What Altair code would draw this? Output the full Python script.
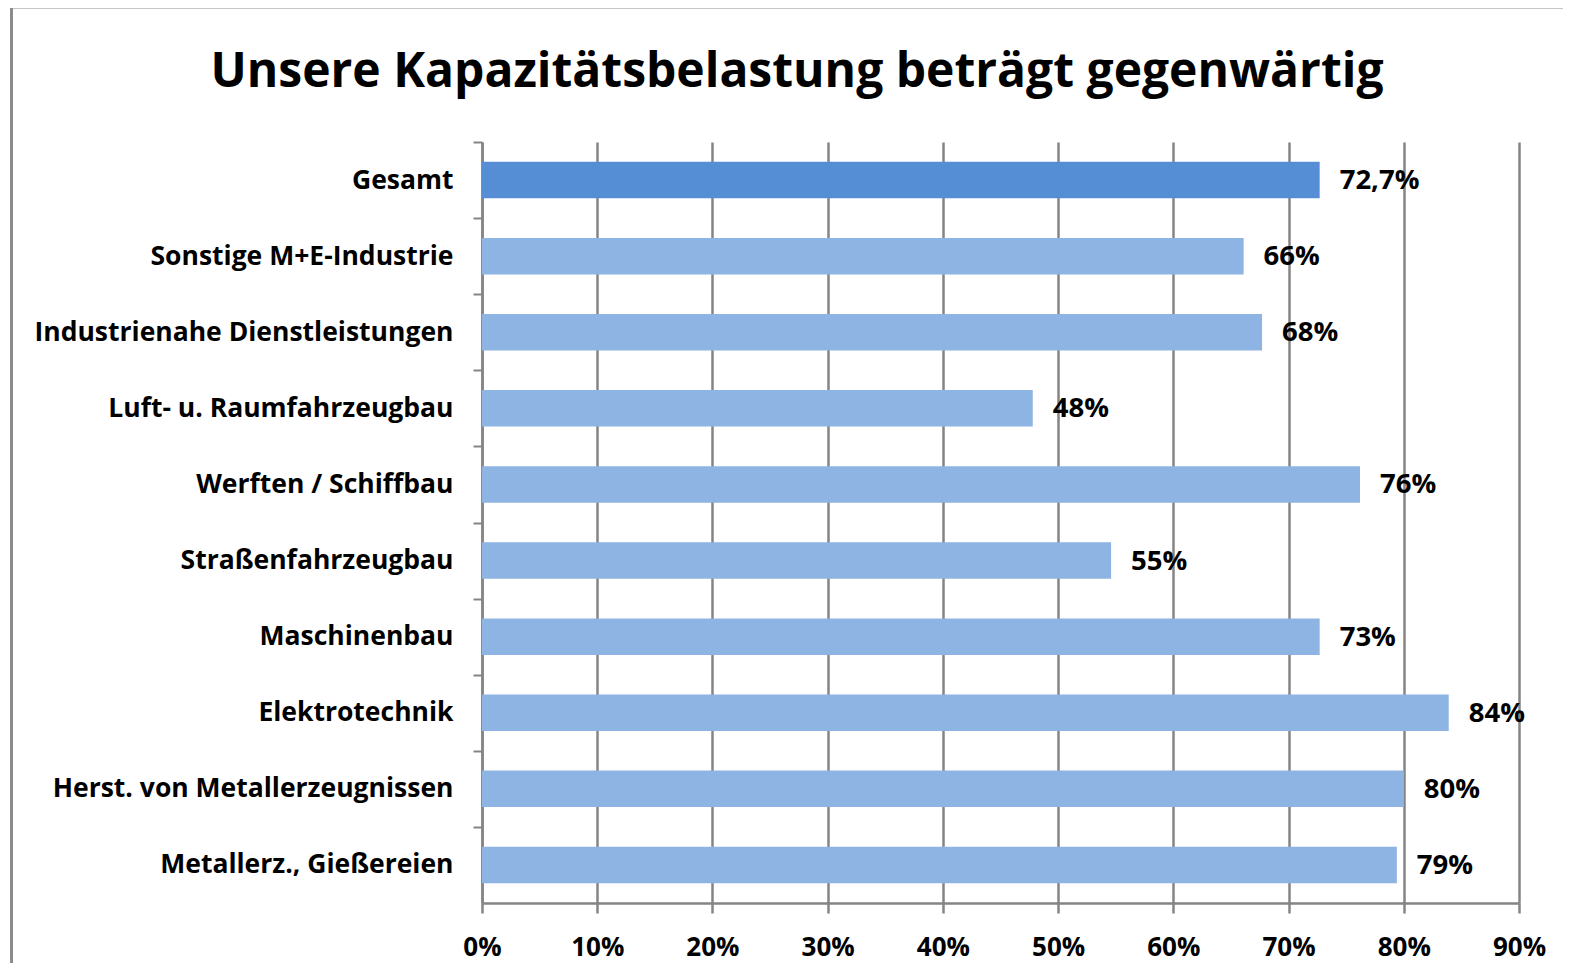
import altair as alt
import pandas as pd

titel = "Unsere Kapazitätsbelastung beträgt gegenwärtig"
kategorien = ["Gesamt", "Sonstige M+E-Industrie", "Industrienahe Dienstleistungen",
              "Luft- u. Raumfahrzeugbau", "Werften / Schiffbau", "Straßenfahrzeugbau",
              "Maschinenbau", "Elektrotechnik", "Herst. von Metallerzeugnissen",
              "Metallerz., Gießereien"]
werte = [72.7, 66.1, 67.7, 47.8, 76.2, 54.6, 72.7, 83.9, 80.0, 79.4]
beschriftungen = ["72,7%", "66%", "68%", "48%", "76%", "55%", "73%", "84%", "80%", "79%"]
x_ticks = [0, 10, 20, 30, 40, 50, 60, 70, 80, 90]

df = pd.DataFrame({"Kategorie": kategorien, "Wert": werte, "Text": beschriftungen})
df_titel = pd.DataFrame({"Titel": [titel]})

FONT = "Open Sans"
GRID = "#858585"
W, H = 1037, 761
band = H / len(kategorien)

y_enc = alt.Y("Kategorie:N", sort=kategorien, title=None,
              scale=alt.Scale(paddingInner=0.52, paddingOuter=0.26),
              axis=alt.Axis(labelFont=FONT, labelFontSize=26.5, labelFontWeight="bold",
                            labelColor="#000000", labelPadding=20, tickSize=9,
                            tickColor=GRID, tickWidth=2, tickOffset=-band / 2,
                            labelOffset=band / 2, domainColor=GRID, domainWidth=2.5,
                            labelLimit=600))
x_scale = alt.Scale(domain=[0, 90], nice=False)

bars = alt.Chart(df).mark_bar().encode(
    x=alt.X("Wert:Q", scale=x_scale, title=None,
            axis=alt.Axis(values=x_ticks, labelExpr="datum.value + '%'",
                          labelFont=FONT, labelFontSize=26, labelFontWeight="bold",
                          labelColor="#000000", tickSize=10, tickColor=GRID, tickWidth=2.5,
                          domainColor=GRID, domainWidth=2.5, grid=True, gridColor=GRID,
                          gridWidth=2.5, labelPadding=21, labelFlush=False,
                          labelOverlap=False)),
    y=y_enc,
    color=alt.condition(alt.datum.Kategorie == "Gesamt", alt.value("#558ED5"), alt.value("#8EB4E3")),
)

labels = alt.Chart(df).mark_text(align="left", baseline="middle", dx=20, dy=1,
                                 font=FONT, fontSize=27.5, fontWeight="bold",
                                 color="#000000").encode(
    x=alt.X("Wert:Q", scale=x_scale),
    y=alt.Y("Kategorie:N", sort=kategorien),
    text="Text:N",
)

frame = alt.Chart(df_titel).mark_rect(fill=None, stroke="#8c8c8c", strokeWidth=3).encode(
    x=alt.value(-470.5), x2=alt.value(1200), y=alt.value(-135), y2=alt.value(1000)
)

title_mark = alt.Chart(df_titel).mark_text(align="center", baseline="alphabetic",
                                           font=FONT, fontSize=48, fontWeight="bold",
                                           color="#000000").encode(
    x=alt.value(315), y=alt.value(-55.5), text="Titel:N"
)

chart = alt.layer(frame, title_mark, bars, labels).properties(
    width=W, height=H,
    padding={"left": 474, "top": 134, "right": 44, "bottom": 60},
    autosize=alt.AutoSizeParams(type="none"),
).configure(background="white").configure_view(stroke=None)

chart.save("out.html", embed_options={"renderer": "svg", "actions": False})
